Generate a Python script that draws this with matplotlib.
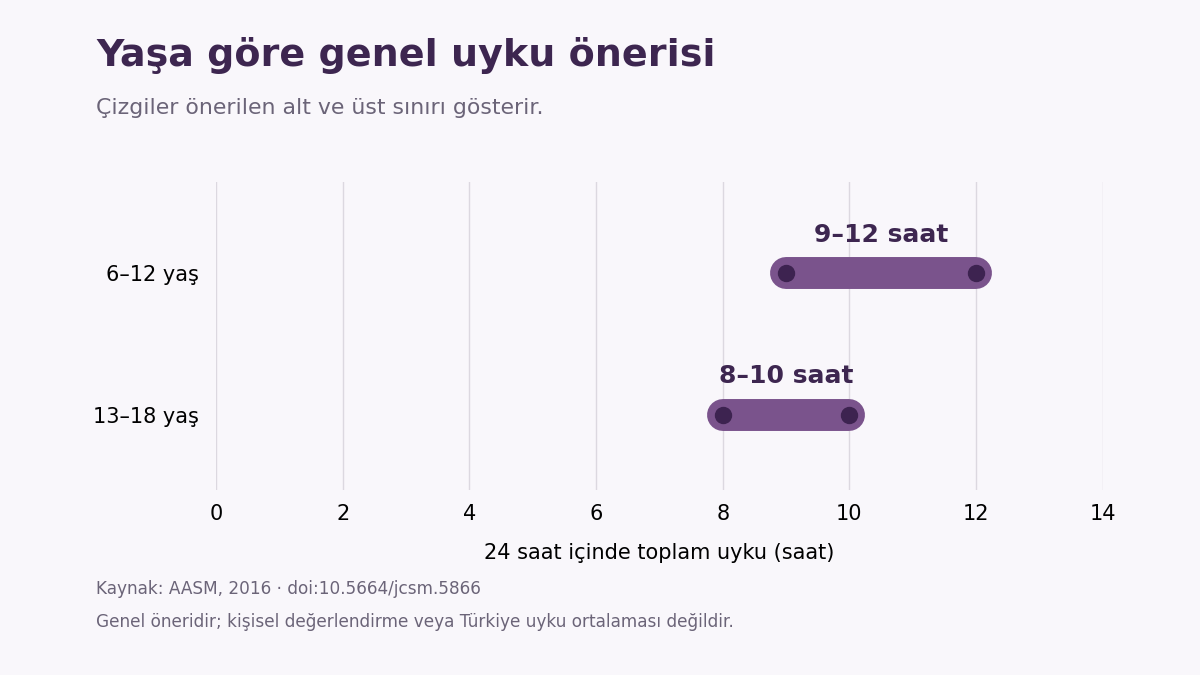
import matplotlib
matplotlib.use("Agg")
import matplotlib.pyplot as plt

plt.rcParams["font.family"] = ["DejaVu Sans"]

# data
groups = ["6–12 yaş", "13–18 yaş"]
low_hours = [9, 8]
high_hours = [12, 10]
range_labels = ["9–12 saat", "8–10 saat"]
x_ticks = [0, 2, 4, 6, 8, 10, 12, 14]

bg = "#f9f7fb"
bar_color = "#7a538c"
dot_color = "#3d2350"
title_color = "#3d2650"
muted = "#6b6478"

fig = plt.figure(figsize=(12, 6.75), dpi=100, facecolor=bg)
ax = fig.add_axes([0.18, 0.274, 0.739, 0.456], facecolor=bg)

ypos = list(range(len(groups)))
for y, lo, hi, lab in zip(ypos, low_hours, high_hours, range_labels):
    ax.plot([lo, hi], [y, y], color=bar_color, linewidth=23,
            solid_capstyle="round", zorder=3)
    ax.plot([lo, hi], [y, y], "o", color=dot_color, markersize=11.5,
            linestyle="none", zorder=4)
    ax.annotate(lab, xy=((lo + hi) / 2, y), xytext=(0, 19),
                textcoords="offset points", ha="center", va="bottom",
                fontsize=18, fontweight="bold", color=title_color)

ax.set_xlim(0, 14)
ax.set_ylim(1.53, -0.64)
ax.set_xticks(x_ticks)
ax.set_yticks(ypos)
ax.set_yticklabels(groups)
ax.tick_params(axis="both", length=0, labelsize=15, pad=10)
ax.tick_params(axis="y", pad=12)
ax.grid(axis="x", color="#dcd8e0", linewidth=1)
ax.set_axisbelow(True)
for s in ax.spines.values():
    s.set_visible(False)
ax.set_xlabel("24 saat içinde toplam uyku (saat)", fontsize=15, labelpad=14)

fig.text(0.08, 0.918, "Yaşa göre genel uyku önerisi", fontsize=27.4,
         fontweight="bold", color=title_color, va="center")
fig.text(0.08, 0.84, "Çizgiler önerilen alt ve üst sınırı gösterir.",
         fontsize=15.8, color=muted, va="center")
fig.text(0.08, 0.127, "Kaynak: AASM, 2016 · doi:10.5664/jcsm.5866",
         fontsize=12.2, color=muted, va="center")
fig.text(0.08, 0.078, "Genel öneridir; kişisel değerlendirme veya Türkiye uyku ortalaması değildir.",
         fontsize=12.2, color=muted, va="center")

fig.savefig("out.png", dpi=100, facecolor=bg)
